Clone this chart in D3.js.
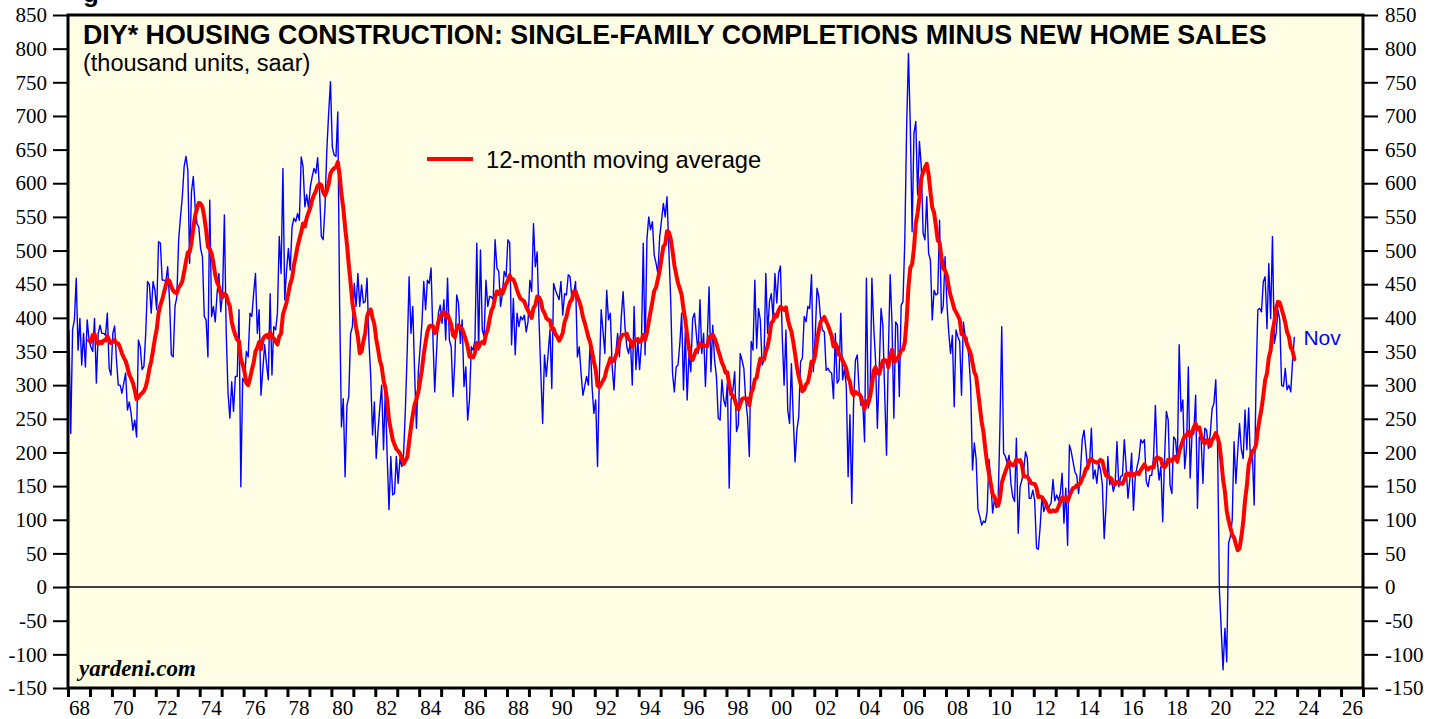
<!DOCTYPE html>
<html>
<head>
<meta charset="utf-8">
<script src="https://cdn.jsdelivr.net/npm/d3@7"></script>
<style>
  body { margin: 0; background: #ffffff; }
  svg { display: block; }
</style>
</head>
<body>
<svg id="chart" width="1441" height="719"></svg>
<script>
// DIY* housing construction: single-family completions minus new home sales

const startYear = 1968      // series starts Jan 1968, monthly
const maWindow = 12         // 12-month moving average
const lastMonthLabel = "Nov"

// thousand units, saar -- one row per year, Jan 1968 .. Nov 2023
const diyValues = [
  382,228,382,397,459,352,399,330,377,327,397,367, // 1968
  357,350,399,303,377,389,377,377,374,407,325,315, // 1969
  377,388,337,300,300,288,303,318,263,275,258,233, // 1970
  248,223,367,357,323,328,377,454,449,407,454,441, // 1971
  412,513,511,456,456,454,476,427,345,342,417,431, // 1972
  516,550,580,625,640,620,481,587,610,565,540,535, // 1973
  503,491,402,397,342,575,402,417,394,436,466,409, // 1974
  436,553,377,288,251,305,261,313,313,412,149,310, // 1975
  305,350,342,407,402,436,466,377,412,285,323,360, // 1976
  332,308,436,315,387,382,407,521,466,622,427,471, // 1977
  503,471,535,548,543,555,545,639,625,565,583,563, // 1978
  595,610,622,615,638,590,521,516,565,649,704,751, // 1979
  654,642,640,706,420,238,280,164,270,283,377,387, // 1980
  451,417,466,417,449,422,424,459,367,313,226,275, // 1981
  191,233,268,300,204,293,194,115,194,137,139,194, // 1982
  154,191,179,199,268,355,461,377,417,318,236,318, // 1983
  355,392,454,412,456,451,474,372,290,350,407,419, // 1984
  392,427,367,459,367,357,283,337,434,422,362,397, // 1985
  298,327,248,278,357,352,367,511,352,501,382,372, // 1986
  456,417,432,431,427,516,474,469,417,436,469,461, // 1987
  516,511,360,429,345,407,387,402,397,404,379,394, // 1988
  456,439,540,476,498,397,318,243,345,313,347,382, // 1989
  295,451,441,434,427,454,404,436,434,464,461,427, // 1990
  436,454,342,357,318,285,298,313,300,367,298,258, // 1991
  278,179,313,412,380,347,441,397,407,327,293,347, // 1992
  377,342,402,439,387,357,347,367,300,417,323,367, // 1993
  323,362,511,345,516,550,531,543,493,481,466,521, // 1994
  545,570,550,580,501,427,318,290,327,330,362,407, // 1995
  293,379,278,347,320,399,407,377,347,427,347,377, // 1996
  298,367,446,320,389,337,313,251,248,308,278,268, // 1997
  303,147,278,293,320,231,241,347,337,325,278,253, // 1998
  194,365,352,456,355,414,397,330,337,466,377,424, // 1999
  436,399,466,422,466,477,372,300,382,263,243,332, // 2000
  251,186,233,253,335,340,402,394,417,414,464,320, // 2001
  372,444,431,397,382,379,322,325,320,318,280,377, // 2002
  303,308,407,308,325,298,164,256,124,275,337,345, // 2003
  293,270,275,216,459,266,278,459,387,337,236,322, // 2004
  414,389,288,196,347,464,392,251,394,389,283,419, // 2005
  424,516,684,793,684,528,674,692,583,662,625,526, // 2006
  516,580,496,486,397,441,434,436,545,407,417,491, // 2007
  422,379,347,374,268,382,372,365,285,394,372,370, // 2008
  342,298,174,214,190,115,105,92,98,96,112,190,    // 2009
  160,110,130,118,125,238,387,199,194,184,196,154, // 2010
  134,127,221,80,149,159,174,201,191,132,132,144,  // 2011
  129,58,56,90,135,112,122,118,120,125,160,128,    // 2012
  137,129,139,169,95,147,62,211,201,186,171,166,   // 2013
  139,171,219,233,204,174,184,236,161,174,154,184, // 2014
  174,152,72,119,194,152,159,142,154,216,149,164,  // 2015
  166,219,179,132,159,199,114,164,179,191,219,214, // 2016
  219,157,149,166,166,194,270,189,159,179,97,191,  // 2017
  261,248,151,139,223,219,184,360,261,278,176,206, // 2018
  327,162,226,228,285,117,223,219,154,236,233,206, // 2019
  228,265,273,308,209,-5,-64,-123,-61,-111,65,75,  // 2020
  100,216,154,201,243,204,191,263,204,266,184,199, // 2021
  122,303,412,414,409,454,461,384,481,399,521,362, // 2022
  377,412,397,300,298,325,293,300,290,337,372      // 2023 (thru Nov)
]

const yTickValues = d3.range(-150, 851, 50)
const xTickYears = d3.range(1968, 2028)
const xLabelYears = d3.range(1968, 2027, 2)

const titleText = "DIY* HOUSING CONSTRUCTION: SINGLE-FAMILY COMPLETIONS MINUS NEW HOME SALES"
const subtitleText = "(thousand units, saar)"
const legendText = "12-month moving average"
const sourceText = "yardeni.com"

const serif = "'Liberation Serif', 'Times New Roman', serif"
const sans = "'Liberation Sans', Arial, sans-serif"
const bgColor = "#fffee5"
const blueColor = "#0000ff"
const redColor = "#ff0000"

const width = 1441
const height = 719
const margin = {left: 68, right: 78, top: 15, bottom: 31}
const plotWidth = width - margin.left - margin.right
const plotHeight = height - margin.top - margin.bottom

const svg = d3.select("#chart")

// monthly points sit mid-month
const series = diyValues.map((v, i) => ({date: startYear + (i + 0.5) / 12, value: v}))
const movingAvg = series.slice(maWindow - 1).map((d, k) => ({
    date: d.date,
    value: d3.mean(diyValues.slice(k, k + maWindow))
}))

const x = d3.scaleLinear().domain([1968, 2027]).range([0, plotWidth])
const y = d3.scaleLinear().domain([-150, 850]).range([plotHeight, 0])

// cut-off heading above the frame
svg.append("text")
    .attr("x", 83)
    .attr("y", 2)
    .attr("font-family", sans)
    .attr("font-weight", "bold")
    .attr("font-size", 26)
    .text("g")

const plot = svg.append("g")
    .attr("transform", `translate(${margin.left},${margin.top})`)

plot.append("rect")
    .attr("width", plotWidth)
    .attr("height", plotHeight)
    .attr("fill", bgColor)

// zero line
plot.append("line")
    .attr("x1", 0)
    .attr("x2", plotWidth)
    .attr("y1", y(0))
    .attr("y2", y(0))
    .attr("stroke", "black")
    .attr("stroke-width", 1.5)

const line = d3.line()
    .x(d => x(d.date))
    .y(d => y(d.value))

plot.append("path")
    .datum(series)
    .attr("d", line)
    .attr("fill", "none")
    .attr("stroke", blueColor)
    .attr("stroke-width", 1.4)
    .attr("stroke-linejoin", "round")

plot.append("path")
    .datum(movingAvg)
    .attr("d", line)
    .attr("fill", "none")
    .attr("stroke", redColor)
    .attr("stroke-width", 4)
    .attr("stroke-linejoin", "round")
    .attr("stroke-linecap", "round")

// axes
function styleAxis(sel, lineWidth) {
    sel.select(".domain").remove()
    sel.attr("font-family", serif).attr("font-size", 21)
    sel.selectAll(".tick line").attr("stroke", "black").attr("stroke-width", lineWidth)
    sel.selectAll(".tick text").attr("fill", "black")
}

plot.append("g")
    .call(d3.axisLeft(y).tickValues(yTickValues).tickSize(15).tickPadding(6).tickFormat(d => String(d)))
    .call(styleAxis, 2)

plot.append("g")
    .attr("transform", `translate(${plotWidth},0)`)
    .call(d3.axisRight(y).tickValues(yTickValues).tickSize(15).tickPadding(7).tickFormat(d => String(d)))
    .call(styleAxis, 2)

plot.append("g")
    .attr("transform", `translate(0,${plotHeight})`)
    .call(d3.axisBottom(x).tickValues(xTickYears).tickSize(9).tickFormat(""))
    .call(styleAxis, 3)

// year labels centred inside each even year
plot.append("g")
    .attr("transform", `translate(0,${plotHeight})`)
    .call(d3.axisBottom(x).tickValues(xLabelYears.map(d => d + 0.5)).tickSize(0).tickPadding(12)
        .tickFormat(d => String(Math.floor(d)).slice(2)))
    .call(styleAxis, 0)

plot.append("rect")
    .attr("width", plotWidth)
    .attr("height", plotHeight)
    .attr("fill", "none")
    .attr("stroke", "black")
    .attr("stroke-width", 3)

// titles
plot.append("text")
    .attr("x", 15)
    .attr("y", 29)
    .attr("font-family", sans)
    .attr("font-weight", "bold")
    .attr("font-size", 26.8)
    .text(titleText)

plot.append("text")
    .attr("x", 15)
    .attr("y", 56)
    .attr("font-family", sans)
    .attr("font-size", 23.5)
    .text(subtitleText)

// legend
plot.append("line")
    .attr("x1", 359)
    .attr("x2", 405)
    .attr("y1", 144)
    .attr("y2", 144)
    .attr("stroke", redColor)
    .attr("stroke-width", 4)

plot.append("text")
    .attr("x", 418)
    .attr("y", 153)
    .attr("font-family", sans)
    .attr("font-size", 23.7)
    .text(legendText)

// last month tag
const last = series[series.length - 1]
plot.append("text")
    .attr("x", x(last.date) + 9)
    .attr("y", y(last.value) + 8)
    .attr("font-family", sans)
    .attr("font-size", 21)
    .attr("fill", blueColor)
    .text(lastMonthLabel)

plot.append("text")
    .attr("x", 11)
    .attr("y", plotHeight - 12)
    .attr("font-family", serif)
    .attr("font-weight", "bold")
    .attr("font-style", "italic")
    .attr("font-size", 23)
    .text(sourceText)
</script>
</body>
</html>
